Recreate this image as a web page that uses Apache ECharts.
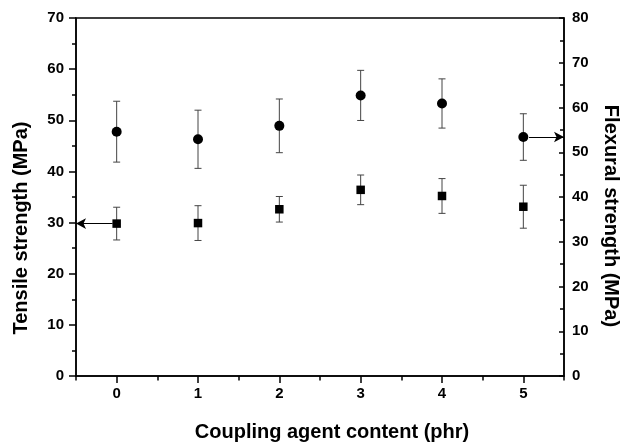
<!DOCTYPE html>
<html>
<head>
<meta charset="utf-8">
<script src="https://cdn.jsdelivr.net/npm/echarts@6/dist/echarts.min.js"></script>
<style>
  html, body { margin: 0; padding: 0; background: #fff; }
  #chart { width: 632px; height: 442px; }
</style>
</head>
<body>
<div id="chart"></div>
<script>
// ---- data ----
const content = [0, 1, 2, 3, 4, 5];               // coupling agent content (phr)
const tensile = [29.8, 29.9, 32.6, 36.4, 35.2, 33.1];  // MPa, left axis
const tensileErr = [3.2, 3.4, 2.5, 2.9, 3.4, 4.2];
const flexural = [54.6, 52.9, 55.9, 62.7, 60.9, 53.4]; // MPa, right axis
const flexuralErr = [6.8, 6.5, 6.0, 5.6, 5.5, 5.2];

const font = 'Liberation Sans, Arial, sans-serif';
const chart = echarts.init(document.getElementById('chart'));

// error bars drawn through the axes' scales
function errorBars(values, errs, yIndex) {
  return {
    type: 'custom',
    xAxisIndex: 0,
    yAxisIndex: yIndex,
    z: 1,
    silent: true,
    data: content.map((x, i) => [x, values[i] - errs[i], values[i] + errs[i]]),
    renderItem: function (params, api) {
      const lo = api.coord([api.value(0), api.value(1)]);
      const hi = api.coord([api.value(0), api.value(2)]);
      const w = 3.5;
      const style = { stroke: '#444', lineWidth: 1 };
      return {
        type: 'group',
        children: [
          { type: 'line', shape: { x1: lo[0], y1: lo[1], x2: hi[0], y2: hi[1] }, style: style },
          { type: 'line', shape: { x1: lo[0] - w, y1: lo[1], x2: lo[0] + w, y2: lo[1] }, style: style },
          { type: 'line', shape: { x1: hi[0] - w, y1: hi[1], x2: hi[0] + w, y2: hi[1] }, style: style }
        ]
      };
    }
  };
}

const tickLine = { color: '#000', width: 1.5 };
const axisLine = { show: true, onZero: false, lineStyle: tickLine };
const labelStyle = { color: '#000', fontFamily: font, fontWeight: 'bold', fontSize: 15 };

chart.setOption({
  animation: false,
  grid: { left: 76, right: 68, top: 18, bottom: 66, show: true, borderColor: '#000', borderWidth: 1.5 },
  xAxis: [
    {
      type: 'value', min: -0.5, max: 5.5, interval: 0.5,
      axisLine: axisLine,
      axisTick: { show: true, length: 4.5, lineStyle: tickLine },
      axisLabel: Object.assign({ margin: 10, formatter: v => Number.isInteger(v) ? String(v) : '' }, labelStyle),
      splitLine: { show: false }
    },
    {
      // longer ticks at the whole numbers
      type: 'value', min: -0.5, max: 5.5, position: 'bottom',
      axisLine: { show: false, onZero: false },
      axisTick: { show: true, length: 7, lineStyle: tickLine, customValues: content },
      axisLabel: { show: false },
      splitLine: { show: false }
    }
  ],
  yAxis: [
    {
      type: 'value', min: 0, max: 70, interval: 10, position: 'left',
      axisLine: axisLine,
      axisTick: { show: true, length: 7, lineStyle: tickLine },
      minorTick: { show: true, splitNumber: 2, length: 4, lineStyle: tickLine },
      axisLabel: Object.assign({ margin: 12 }, labelStyle),
      splitLine: { show: false }
    },
    {
      type: 'value', min: 0, max: 80, interval: 10, position: 'right',
      axisLine: axisLine,
      axisTick: { show: true, inside: true, length: 5, lineStyle: tickLine },
      minorTick: { show: true, splitNumber: 2, length: 4, lineStyle: tickLine },
      axisLabel: Object.assign({ margin: 8 }, labelStyle),
      splitLine: { show: false }
    }
  ],
  series: [
    errorBars(tensile, tensileErr, 0),
    errorBars(flexural, flexuralErr, 1),
    {
      name: 'Tensile strength', type: 'scatter', yAxisIndex: 0, z: 3,
      symbol: 'rect', symbolSize: 8.5,
      itemStyle: { color: '#000', opacity: 1 },
      data: content.map((x, i) => [x, tensile[i]]),
      markLine: {
        silent: true, symbol: ['none', 'arrow'], symbolSize: [8, 10],
        lineStyle: { color: '#000', width: 1.2, type: 'solid' },
        label: { show: false },
        data: [[{ coord: [content[0] - 0.05, tensile[0]] }, { coord: [-0.5, tensile[0]] }]]
      }
    },
    {
      name: 'Flexural strength', type: 'scatter', yAxisIndex: 1, z: 3,
      symbol: 'circle', symbolSize: 10,
      itemStyle: { color: '#000', opacity: 1 },
      data: content.map((x, i) => [x, flexural[i]]),
      markLine: {
        silent: true, symbol: ['none', 'arrow'], symbolSize: [8, 10],
        lineStyle: { color: '#000', width: 1.2, type: 'solid' },
        label: { show: false },
        data: [[{ coord: [content[5] + 0.07, flexural[5]] }, { coord: [5.5, flexural[5]] }]]
      }
    }
  ],
  graphic: [
    {
      type: 'text', x: 21, y: 228, rotation: Math.PI / 2,
      style: { text: 'Tensile strength (MPa)', fill: '#000', font: 'bold 20px ' + font, align: 'center', verticalAlign: 'middle' }
    },
    {
      type: 'text', x: 611, y: 216, rotation: -Math.PI / 2,
      style: { text: 'Flexural strength (MPa)', fill: '#000', font: 'bold 20px ' + font, align: 'center', verticalAlign: 'middle' }
    },
    {
      type: 'text', x: 332, y: 432,
      style: { text: 'Coupling agent content (phr)', fill: '#000', font: 'bold 20px ' + font, align: 'center', verticalAlign: 'middle' }
    }
  ]
});
</script>
</body>
</html>
